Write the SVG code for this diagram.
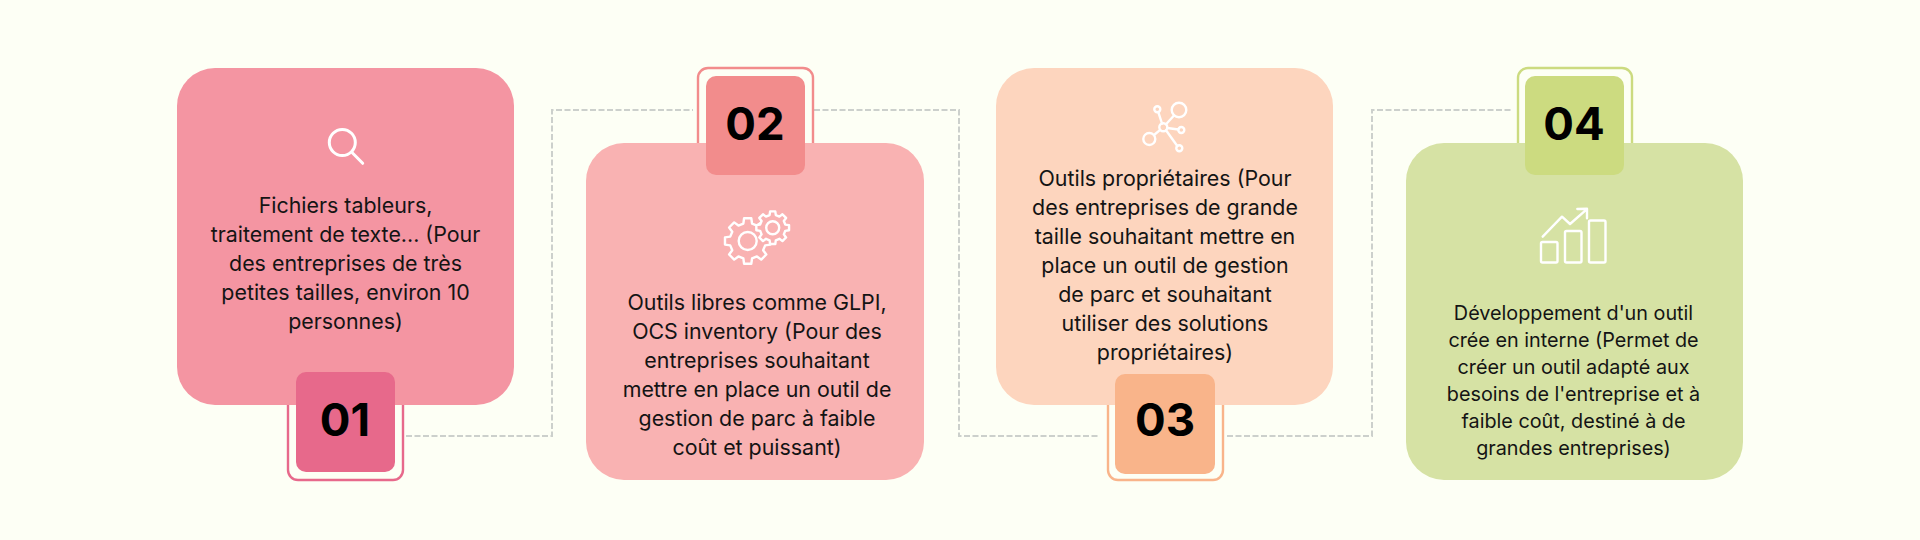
<svg xmlns="http://www.w3.org/2000/svg" width="1920" height="540" viewBox="0 0 1920 540">
<style>
.lbl{font-family:Inter,"Noto Sans",sans-serif;font-size:21.4px;fill:#141414;text-anchor:middle}
.lbl4{font-size:19.8px}
.num{font-family:Inter,"Liberation Sans",sans-serif;font-size:45.5px;font-weight:740;fill:#000;text-anchor:middle}
.frame{fill:#fdfff5;stroke-width:2.4}
.ico{fill:none;stroke:#fff;stroke-width:2.4;stroke-linecap:round;stroke-linejoin:round}
.conn{fill:none;stroke:#ccd0cc;stroke-width:2;stroke-dasharray:6 2.5}
</style>
<defs>
<path id="gear" vector-effect="non-scaling-stroke" d="M22.72 -3.6L22.72 3.6L17.47 4.35L15.43 9.27L18.61 13.52L13.52 18.61L9.27 15.43L4.35 17.47L3.6 22.72L-3.6 22.72L-4.35 17.47L-9.27 15.43L-13.52 18.61L-18.61 13.52L-15.43 9.27L-17.47 4.35L-22.72 3.6L-22.72 -3.6L-17.47 -4.35L-15.43 -9.27L-18.61 -13.52L-13.52 -18.61L-9.27 -15.43L-4.35 -17.47L-3.6 -22.72L3.6 -22.72L4.35 -17.47L9.27 -15.43L13.52 -18.61L18.61 -13.52L15.43 -9.27L17.47 -4.35Z"/>
</defs>
<rect width="1920" height="540" fill="#fdfff5"/>
<g id="connectors">
<path class="conn" d="M406 436H552V110H693"/>
<path class="conn" d="M814 110H959V436H1100"/>
<path class="conn" d="M1227 436H1372V110H1513"/>
</g>
<g id="node-01">
<rect class="frame" x="288" y="360" width="115" height="120" rx="10" stroke="#e7698b"/>
<rect x="177" y="68" width="337" height="337" rx="38" fill="#f495a2"/>
<rect x="296" y="372" width="99" height="100" rx="10" fill="#e7698b"/>
<text class="num" x="345" y="436">01</text>
<g class="ico" style="stroke-width:3"><circle cx="342.3" cy="142.5" r="13"/><path d="M352.5 153L362.7 163.3"/></g>
<text class="lbl"><tspan x="345.5" y="213">Fichiers tableurs,</tspan><tspan x="345.5" y="242">traitement de texte... (Pour</tspan><tspan x="345.5" y="271">des entreprises de très</tspan><tspan x="345.5" y="300">petites tailles, environ 10</tspan><tspan x="345.5" y="329">personnes)</tspan></text>
</g>
<g id="node-02">
<rect class="frame" x="698" y="68" width="115" height="120" rx="10" stroke="#f28c8c"/>
<rect x="586" y="143" width="338" height="337" rx="38" fill="#f9b2b2"/>
<rect x="706" y="76" width="99" height="99" rx="10" fill="#f28c8c"/>
<text class="num" x="755" y="140">02</text>
<g class="ico">
<use href="#gear" transform="translate(747.7 241)"/><circle cx="747.7" cy="241" r="9"/>
<use href="#gear" transform="translate(772.7 227.7) scale(.72)" style="fill:#f9b2b2"/><circle cx="772.7" cy="227.7" r="6.5"/>
</g>
<text class="lbl"><tspan x="757" y="310">Outils libres comme GLPI,</tspan><tspan x="757" y="339">OCS inventory (Pour des</tspan><tspan x="757" y="368">entreprises souhaitant</tspan><tspan x="757" y="397">mettre en place un outil de</tspan><tspan x="757" y="426">gestion de parc à faible</tspan><tspan x="757" y="455">coût et puissant)</tspan></text>
</g>
<g id="node-03">
<rect class="frame" x="1108" y="360" width="115" height="120" rx="10" stroke="#f9b48a"/>
<rect x="996" y="68" width="337" height="337" rx="38" fill="#fdd5be"/>
<rect x="1115" y="374" width="100" height="100" rx="10" fill="#f9b48a"/>
<text class="num" x="1165" y="436">03</text>
<g class="ico">
<circle cx="1163.3" cy="127.3" r="4"/><circle cx="1179" cy="110" r="7.3"/><circle cx="1149.3" cy="139" r="6"/><circle cx="1157.3" cy="109.3" r="3"/><circle cx="1181.3" cy="130" r="3"/><circle cx="1179.3" cy="148.3" r="3"/>
<path d="M1166 124.3L1174 115.5M1160.2 129.9L1154 135M1162 123.5L1158.3 112.2M1167.3 128L1178.3 129.5M1166 130.3L1177.3 146"/>
</g>
<text class="lbl"><tspan x="1165" y="186">Outils propriétaires (Pour</tspan><tspan x="1165" y="215">des entreprises de grande</tspan><tspan x="1165" y="244">taille souhaitant mettre en</tspan><tspan x="1165" y="273">place un outil de gestion</tspan><tspan x="1165" y="302">de parc et souhaitant</tspan><tspan x="1165" y="331">utiliser des solutions</tspan><tspan x="1165" y="360">propriétaires)</tspan></text>
</g>
<g id="node-04">
<rect class="frame" x="1518" y="68" width="114" height="120" rx="10" stroke="#ccdb80"/>
<rect x="1406" y="143" width="337" height="337" rx="38" fill="#d6e2a4"/>
<rect x="1525" y="76" width="99" height="99" rx="10" fill="#ccdb80"/>
<text class="num" x="1574" y="140">04</text>
<g class="ico">
<rect x="1541" y="242" width="16.5" height="20.5" rx="1.5"/><rect x="1565" y="231" width="16.5" height="31.5" rx="1.5"/><rect x="1589" y="220.5" width="16.5" height="42" rx="1.5"/>
<path d="M1542.7 236.7L1562 216.7L1570 224L1586.7 209.3M1577.3 209L1587 208.7L1587 218.3"/>
</g>
<text class="lbl lbl4"><tspan x="1573.5" y="320">Développement d'un outil</tspan><tspan x="1573.5" y="347">crée en interne (Permet de</tspan><tspan x="1573.5" y="374">créer un outil adapté aux</tspan><tspan x="1573.5" y="401">besoins de l'entreprise et à</tspan><tspan x="1573.5" y="428">faible coût, destiné à de</tspan><tspan x="1573.5" y="455">grandes entreprises)</tspan></text>
</g>
</svg>
